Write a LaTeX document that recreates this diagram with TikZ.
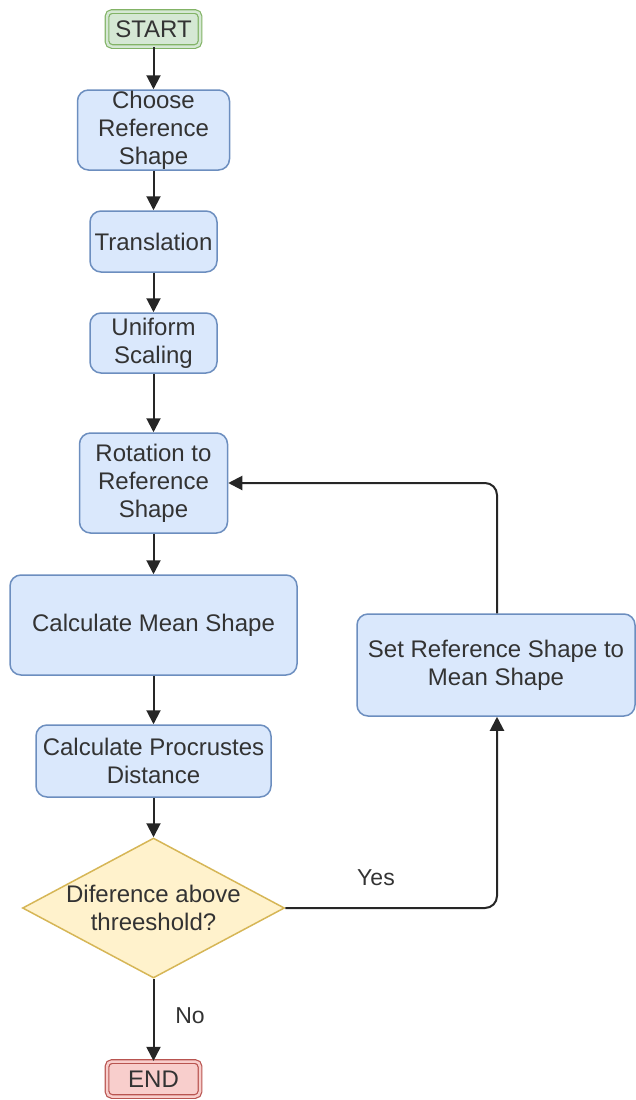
\documentclass[tikz,border=0pt]{standalone}
\usepackage{fontspec}
\setmainfont{Liberation Sans}
\usetikzlibrary{shapes.geometric,arrows.meta}
\definecolor{bfill}{HTML}{DAE8FC}
\definecolor{bdraw}{HTML}{6C8EBF}
\definecolor{gfill}{HTML}{D5E8D4}
\definecolor{gdraw}{HTML}{82B366}
\definecolor{yfill}{HTML}{FFF2CC}
\definecolor{ydraw}{HTML}{D6B656}
\definecolor{rfill}{HTML}{F8CECC}
\definecolor{rdraw}{HTML}{B85450}
\definecolor{txt}{HTML}{333333}
\begin{document}
\begin{tikzpicture}[x=1pt,y=-1pt,
  every node/.style={font=\fontsize{24}{28}\selectfont, text=txt},
  procbox/.style={draw=bdraw, fill=bfill, line width=1.5pt, rounded corners=11pt, align=center, inner sep=0pt},
  termbox/.style={double=#1, double distance=2.5pt, fill=#1, line width=1.2pt, rounded corners=5pt, align=center, inner sep=0pt, minimum width=93pt, minimum height=35pt},
  decbox/.style={diamond, aspect=1.87, draw=ydraw, fill=yfill, line width=1.5pt, align=center, inner sep=0pt},
  conn/.style={line width=2pt, draw=black!85, -{Triangle[length=14pt,width=14pt]}, rounded corners=12pt},
  lbl/.style={font=\fontsize{23}{27}\selectfont}
]
\useasboundingbox (0,0) rectangle (635,1100);
\node[termbox=gfill, draw=gdraw] (start) at (153.5,29) {START};
\node[procbox, minimum width=152pt, minimum height=80pt] (choose) at (153.5,130) {Choose\\Reference\\Shape};
\node[procbox, minimum width=127pt, minimum height=61pt] (trans) at (153.5,241.5) {Translation};
\node[procbox, minimum width=127pt, minimum height=60pt] (scale) at (153.5,343) {Uniform\\Scaling};
\node[procbox, minimum width=148pt, minimum height=100pt] (rot) at (153.5,483) {Rotation to\\Reference\\Shape};
\node[procbox, minimum width=287pt, minimum height=100pt] (mean) at (153.5,625) {Calculate Mean Shape};
\node[procbox, minimum width=235pt, minimum height=72pt] (proc) at (153.5,761) {Calculate Procrustes\\Distance};
\node[decbox, minimum width=262pt, minimum height=140pt] (dec) at (153.5,908) {Diference above\\threeshold?};
\node[termbox=rfill, draw=rdraw] (end) at (153.5,1079) {END};
\node[procbox, minimum width=278pt, minimum height=102pt] (set) at (496,665) {Set Reference Shape to\\Mean Shape};
\coordinate (c1) at (497,908);
\coordinate (c2) at (497,483);

\draw[conn] (start) -- (choose);
\draw[conn] (choose) -- (trans);
\draw[conn] (trans) -- (scale);
\draw[conn] (scale) -- (rot);
\draw[conn] (rot) -- (mean);
\draw[conn] (mean) -- (proc);
\draw[conn] (proc) -- (dec);
\draw[conn] (dec) -- (end);
\draw[conn] (dec.east) -- (c1) -- (set.south -| c1);
\draw[conn] (set.north -| c2) -- (c2) -- (rot.east);
\node[lbl] (yes) at (376,878) {Yes};
\node[lbl] (no) at (190,1016) {No};
\end{tikzpicture}
\end{document}
